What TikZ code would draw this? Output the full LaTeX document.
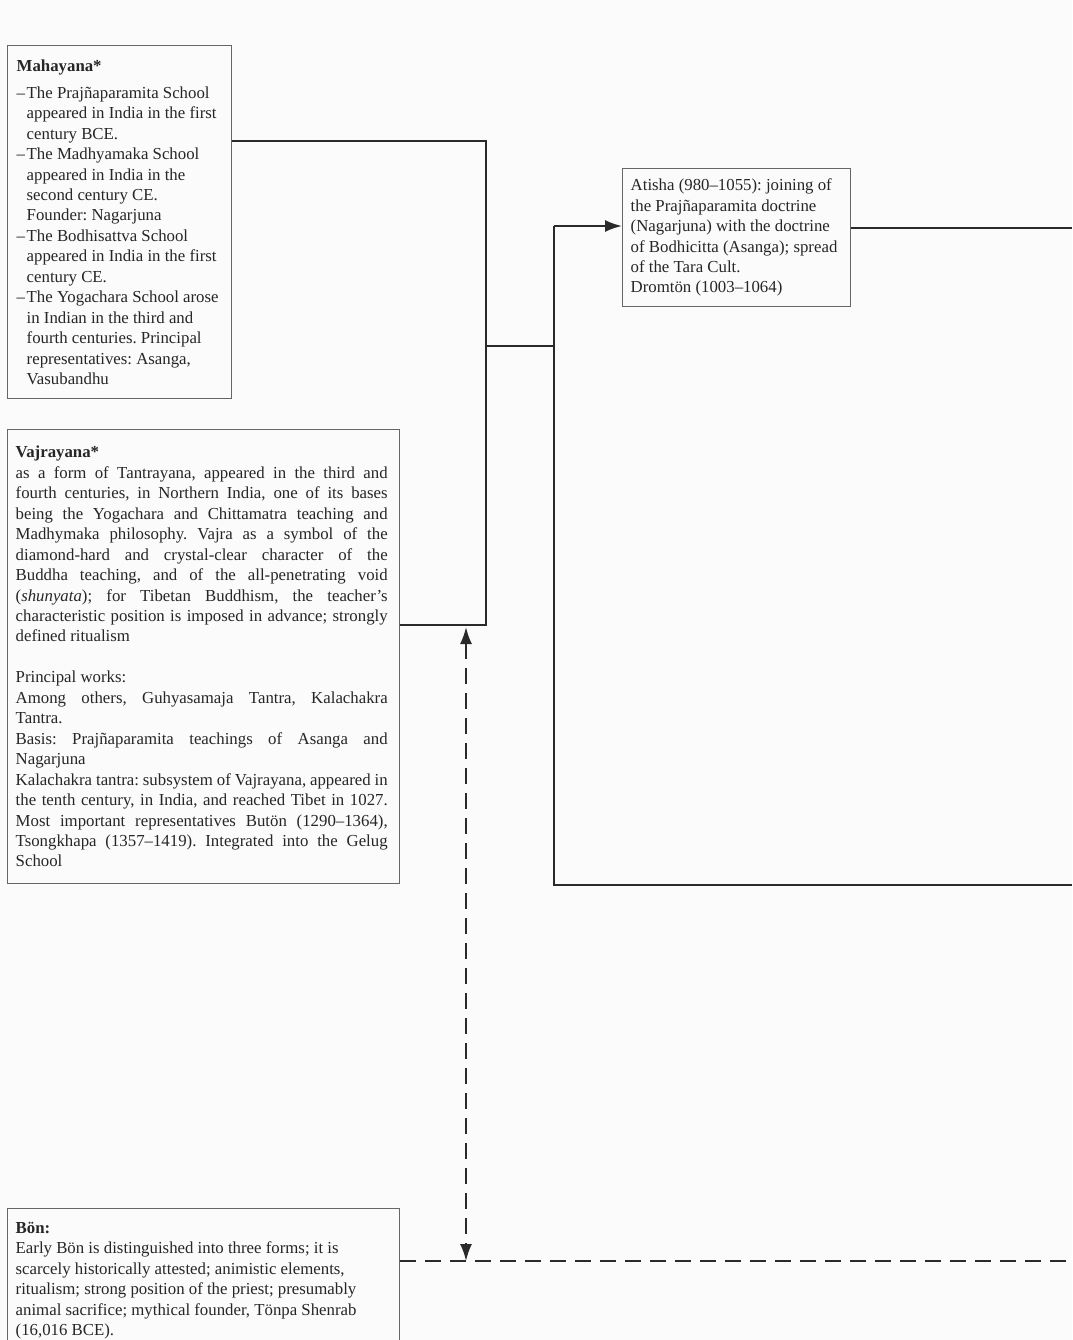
\documentclass[tikz,border=0pt]{standalone}
\usepackage{fontspec}
\setmainfont{Liberation Serif}
\usetikzlibrary{arrows.meta,calc}
\definecolor{txt}{HTML}{262626}
\definecolor{boxline}{HTML}{666666}
\definecolor{conn}{HTML}{2A2A2A}
\definecolor{bg}{HTML}{FBFBFC}
\newlength\vajw \setlength\vajw{372pt}
\newcommand\ns{\spaceskip=0pt\xspaceskip=0pt\relax}
\newcommand\jl[1]{\makebox[\vajw][s]{#1}\par}
\newcommand\rl[1]{#1\par}
\newcommand\itm{\makebox[10pt][l]{–}}
\newcommand\cnt{\hspace*{10pt}}
\begin{document}
\begin{tikzpicture}[x=1pt,y=-1pt,
  infobox/.style={draw=boxline,line width=1.4pt,rectangle,anchor=north west,
    align=left,text=txt,font=\frenchspacing\fontsize{16.8}{20.45}\selectfont,inner ysep=0pt},
  link/.style={draw=conn,line width=2pt},
  tip/.style={-{Latex[length=17pt,width=12pt]}},
  dlink/.style={draw=conn,line width=2pt,dash pattern=on 16pt off 9pt}]
\fill[bg] (0,0) rectangle (1072,1340);
\useasboundingbox (0,0) rectangle (1072,1340);

\node[infobox,text width=206pt,inner xsep=9pt,minimum height=353pt] (mah) at (7,45) {\ns
\textbf{Mahayana*}\\[6.5pt]
\itm The Prajñaparamita School\\
\cnt appeared in India in the first\\
\cnt century BCE.\\
\itm The Madhyamaka School\\
\cnt appeared in India in the\\
\cnt second century CE.\\
\cnt Founder: Nagarjuna\\
\itm The Bodhisattva School\\
\cnt appeared in India in the first\\
\cnt century CE.\\
\itm The Yogachara School arose\\
\cnt in Indian in the third and\\
\cnt fourth centuries. Principal\\
\cnt representatives: Asanga,\\
\cnt Vasubandhu};

\node[infobox,text width=376pt,inner xsep=8pt,minimum height=454pt] (vaj) at (7,429) {\ns
\rl{\textbf{Vajrayana*}}
\jl{as a form of Tantrayana, appeared in the third and}
\jl{fourth centuries, in Northern India, one of its bases}
\jl{being the Yogachara and Chittamatra teaching and}
\jl{Madhymaka philosophy. Vajra as a symbol of the}
\jl{diamond-hard and crystal-clear character of the}
\jl{Buddha teaching, and of the all-penetrating void}
\jl{(\textit{shunyata}); for Tibetan Buddhism, the teacher’s}
\jl{characteristic position is imposed in advance; strongly}
\rl{defined ritualism}
\rl{\mbox{}}
\rl{Principal works:}
\jl{Among others, Guhyasamaja Tantra, Kalachakra}
\rl{Tantra.}
\jl{Basis: Prajñaparamita teachings of Asanga and}
\rl{Nagarjuna}
\jl{Kalachakra tantra: subsystem of Vajrayana, appeared in}
\jl{the tenth century, in India, and reached Tibet in 1027.}
\jl{Most important representatives Butön (1290–1364),}
\jl{Tsongkhapa (1357–1419). Integrated into the Gelug}
\rl{School}};

\node[infobox,text width=212pt,inner xsep=8pt,minimum height=138pt] (ati) at (622,168) {\ns
Atisha (980–1055): joining of\\
the Prajñaparamita doctrine\\
(Nagarjuna) with the doctrine\\
of Bodhicitta (Asanga); spread\\
of the Tara Cult.\\
Dromtön (1003–1064)};

\node[infobox,text width=376pt,inner xsep=8pt,minimum height=144pt] (bon) at (7,1208) {\ns
\textbf{Bön:}\\
Early Bön is distinguished into three forms; it is\\
scarcely historically attested; animistic elements,\\
ritualism; strong position of the priest; presumably\\
animal sacrifice; mythical founder, Tönpa Shenrab\\
(16,016 BCE).};

\coordinate (j1) at (486,141);
\coordinate (j2) at (486,625);
\coordinate (j3) at (486,346);
\coordinate (j4) at (554,346);
\coordinate (j5) at (554,226);
\coordinate (j6) at (554,885);
\coordinate (e1) at (1072,885);
\coordinate (e2) at (1072,228);
\coordinate (dtop) at (466,627);
\coordinate (dbot) at (466,1261);
\coordinate (e3) at (1072,1261);

\draw[link] (mah.east |- j1) -- (j1) -- (j2) -- (vaj.east |- j2);
\draw[link] (j3) -- (j4);
\draw[link] (e1) -- (j6) -- (j4) -- (j5);
\draw[link,tip] (j5) -- (ati.west |- j5);
\draw[link] (ati.east |- e2) -- (e2);
\draw[dlink,{Latex[length=17pt,width=12pt]}-{Latex[length=17pt,width=12pt]}] (dtop) -- (dbot);
\draw[dlink] (bon.east |- dbot) -- (e3);
\end{tikzpicture}
\end{document}
